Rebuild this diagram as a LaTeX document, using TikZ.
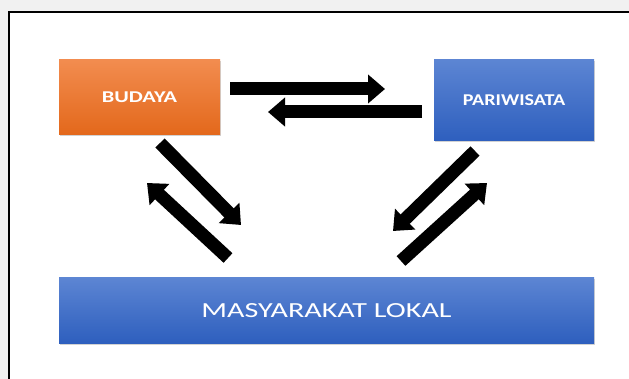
\documentclass[tikz,border=0pt]{standalone}
\usepackage{fontspec}
\newfontfamily\boxfont{Carlito}
\usetikzlibrary{arrows.meta,shadows}

\definecolor{orangetop}{HTML}{F28C4F}
\definecolor{orangebot}{HTML}{E3681B}
\definecolor{bluetop}{HTML}{5C85D3}
\definecolor{bluebot}{HTML}{2E5FBE}
\definecolor{pagegray}{HTML}{F1F1F1}

\begin{document}
\begin{tikzpicture}
    [x=1pt, y=-1pt,
     box/.style={inner sep=0pt, text=white,
        drop shadow={shadow xshift=1pt, shadow yshift=-1.5pt, opacity=0.35}},
     orangebox/.style={box, top color=orangetop, bottom color=orangebot},
     bluebox/.style={box, top color=bluetop, bottom color=bluebot},
     flow/.style={line width=13pt, -{Triangle[width=28pt,length=17pt]}}]
    \useasboundingbox (0,0) rectangle (629,379);
    \clip (0,0) rectangle (629,379);

    % Frame
    \fill [pagegray] (0,0) rectangle (629,379);
    \draw [line width=1.6pt, fill=white] (9,12) rectangle (645,395);

    % Budaya
    \node [orangebox,
        minimum width=161pt,
        minimum height=75pt]
        (budaya) at (139.5,97.5)
        {\boxfont\bfseries\fontsize{16.5}{18}\selectfont\scalebox{1.35}[1]{BUDAYA}};

    % Pariwisata
    \node [bluebox,
        minimum width=160pt,
        minimum height=81pt]
        (pariwisata) at (514,100.5)
        {\boxfont\bfseries\fontsize{16.5}{18}\selectfont\scalebox{1.22}[1]{PARIWISATA}};

    % Masyarakat lokal
    \node [bluebox,
        minimum width=535pt,
        minimum height=65pt]
        (lokal) at (326.5,310.5)
        {\boxfont\fontsize{21.5}{24}\selectfont\scalebox{1.4}[1]{MASYARAKAT LOKAL}};

    % Arrow ends
    \coordinate (bp1) at (230,89);
    \coordinate (bp2) at (385,89);
    \coordinate (pb1) at (422,112);
    \coordinate (pb2) at (268,112);
    \coordinate (bl1) at (160,143);
    \coordinate (bl2) at (241,225);
    \coordinate (lb1) at (228,258);
    \coordinate (lb2) at (147,183);
    \coordinate (pl1) at (475,151);
    \coordinate (pl2) at (393,231);
    \coordinate (lp1) at (401,261);
    \coordinate (lp2) at (487,183);

    % Arrows
    \draw [flow] (bp1) -- (bp2);
    \draw [flow] (pb1) -- (pb2);
    \draw [flow] (bl1) -- (bl2);
    \draw [flow] (lb1) -- (lb2);
    \draw [flow] (pl1) -- (pl2);
    \draw [flow] (lp1) -- (lp2);
\end{tikzpicture}
\end{document}
